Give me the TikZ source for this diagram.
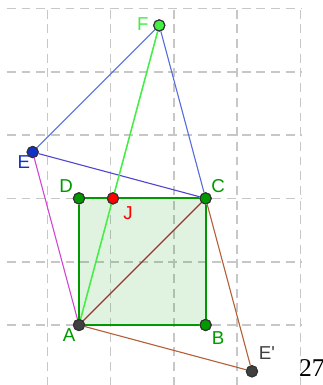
\documentclass[tikz,border=0pt]{standalone}
\usepackage{fontspec}
\setmainfont{Liberation Sans}
\newfontfamily\numfont{Liberation Serif}
\definecolor{ptgreen}{RGB}{0,153,0}
\definecolor{lightgr}{RGB}{68,238,68}
\definecolor{ptblue}{RGB}{16,50,200}
\definecolor{lineblue}{RGB}{85,110,220}
\definecolor{violetblue}{RGB}{80,70,210}
\definecolor{magent}{RGB}{210,70,210}
\definecolor{darkred}{RGB}{153,51,51}
\definecolor{brownline}{RGB}{180,95,55}
\definecolor{darkpt}{RGB}{64,64,64}
\begin{document}
\begin{tikzpicture}[
    gridline/.style={draw=black!22, line width=0.75pt, dash pattern=on 4pt off 2.6pt},
    thin line/.style={line width=0.5pt},
    pt/.style={circle, draw=black!80, line width=0.5pt, inner sep=0pt, minimum size=5pt},
    lbl/.style={font=\fontsize{8.4pt}{9pt}\selectfont, inner sep=0pt}
]
    \useasboundingbox (-1.248,-0.948) rectangle (3.839,5.134);

    % Grid
    \foreach \x in {-0.5,0.5,...,3.5} \draw[gridline] (\x,4.98) -- (\x,-0.948);
    \foreach \y in {0,...,5} \draw[gridline] (-1.14,\y) -- (3.5,\y);

    % Define node positions
    \node[pt, fill=darkpt] (A) at (0, 0) {}; \node[pt, fill=ptgreen] (B) at
    (2, 0) {}; \node[pt, fill=ptgreen] (C) at (2, 2) {}; \node[pt,
    fill=ptgreen] (D) at (0, 2) {};
    \node[pt, fill=ptblue] (E) at (-0.732, 2.732) {}; \node[pt, fill=lightgr]
    (F) at (1.268, 4.732) {}; \node[pt, fill=red] (J) at (0.536, 2) {};
    \node[pt, fill=darkpt] (Ep) at (2.732, -0.732) {};

    % Square
    \fill[ptgreen, fill opacity=0.12] (A.center) -- (B.center) -- (C.center)
    -- (D.center) -- cycle;
    \draw[ptgreen, line width=0.9pt] (A) -- (B) -- (C) -- (D) -- (A);

    % Draw segments
    \draw[thin line, lineblue] (E) -- (F); \draw[thin line, lineblue] (F) --
    (C); \draw[thin line, violetblue] (E) -- (C);
    \draw[thin line, magent] (E) -- (A); \draw[line width=0.7pt, lightgr] (A)
    -- (F);
    \draw[thin line, darkred] (A) -- (C); \draw[thin line, brownline] (A) --
    (Ep); \draw[thin line, brownline] (C) -- (Ep);

    % Points again on top
    \foreach \p/\c in {A/darkpt, B/ptgreen, C/ptgreen, D/ptgreen, E/ptblue,
    F/lightgr, J/red, Ep/darkpt}
        \node[pt, fill=\c] at (\p) {};

    % Labels
    \node[lbl, text=lightgr] (lF) at (1.01, 4.755) {F};
    \node[lbl, text=ptblue] (lE) at (-0.87, 2.575) {E};
    \node[lbl, text=ptgreen] (lD) at (-0.205, 2.196) {D};
    \node[lbl, text=ptgreen] (lC) at (2.196, 2.196) {C};
    \node[lbl, text=red] (lJ) at (0.774, 1.77) {J};
    \node[lbl, text=ptgreen] (lA) at (-0.158, -0.158) {A};
    \node[lbl, text=ptgreen] (lB) at (2.196, -0.205) {B};
    \node[lbl, text=darkpt] (lEp) at (2.97, -0.44) {E\textquotesingle};
    \node[font=\numfont\fontsize{11.5pt}{12pt}\selectfont, inner sep=0pt]
    (num) at (3.68, -0.68) {27};
\end{tikzpicture}
\end{document}
